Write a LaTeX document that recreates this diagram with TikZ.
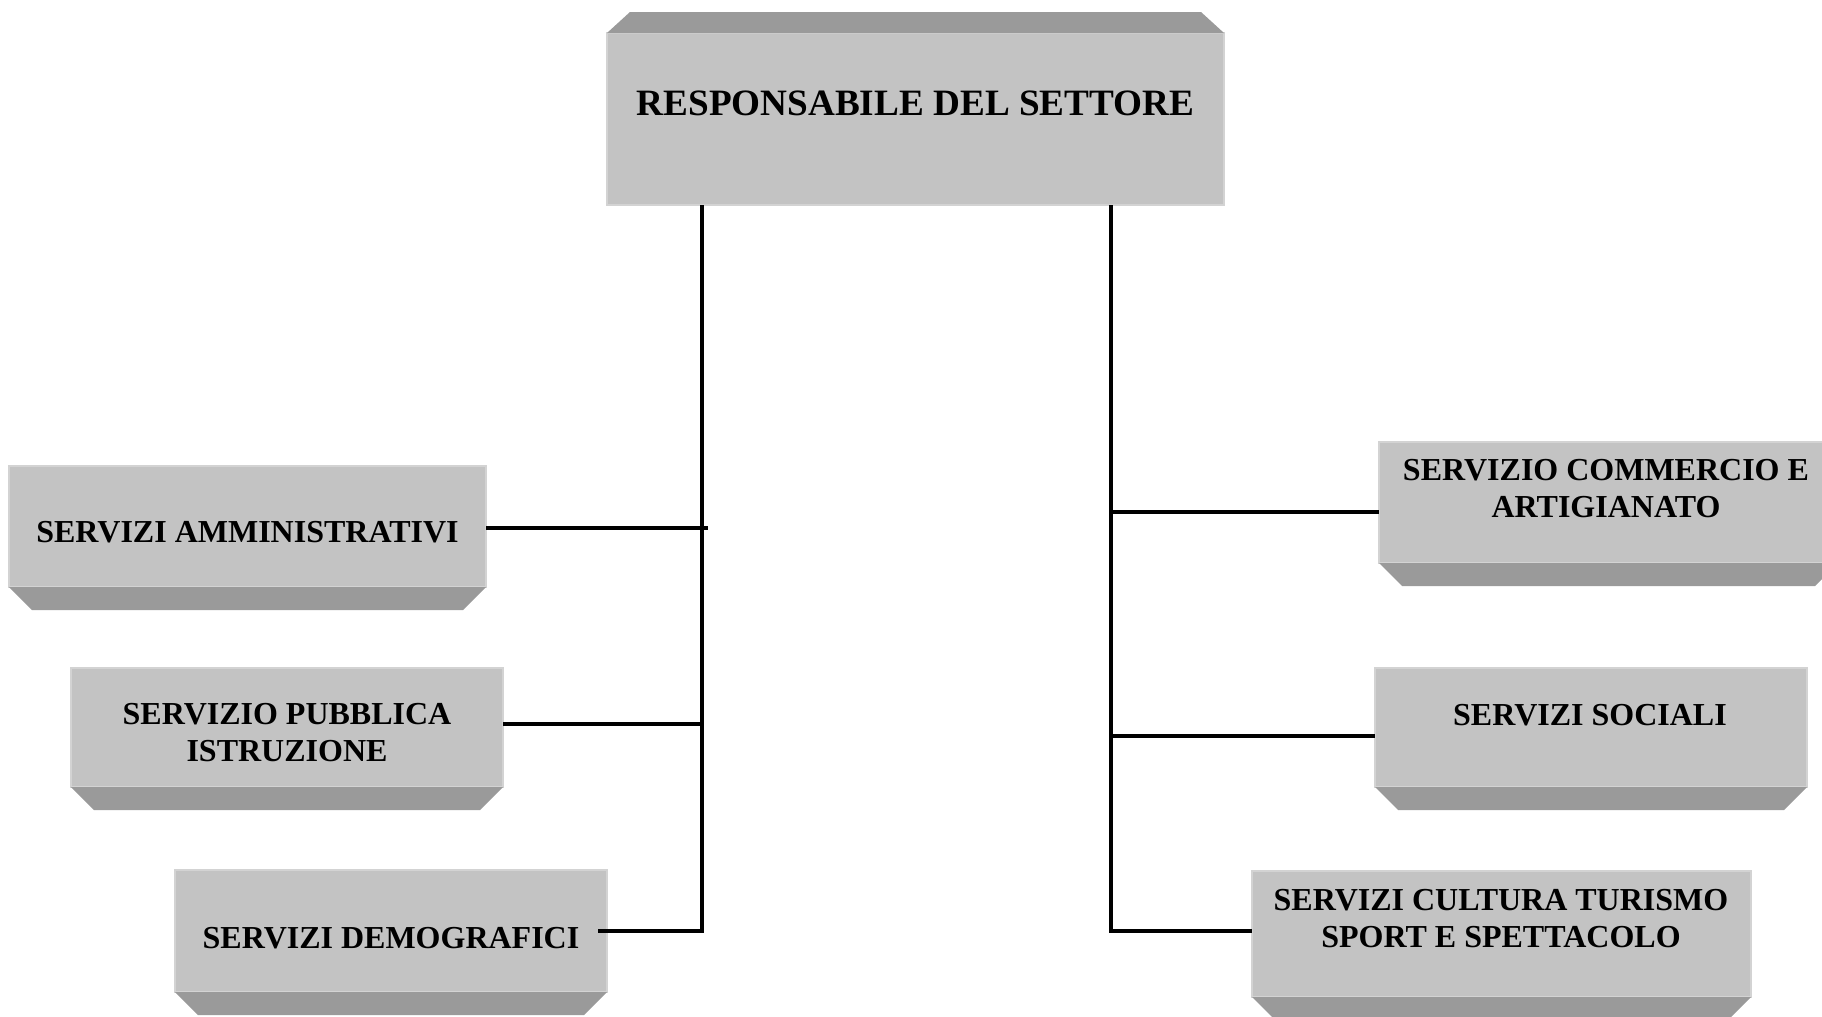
\documentclass[tikz,border=0pt]{standalone}
\usepackage{fontspec}
\setmainfont{Liberation Serif}
\usetikzlibrary{calc}
\definecolor{face}{HTML}{C3C3C3}
\definecolor{bevelc}{HTML}{9A9A9A}
\definecolor{edgec}{HTML}{D3D3D3}
\newcommand\botbevel[1]{\fill[bevelc] (#1.south west) -- (#1.south east) -- ++(-23,23) -- ($(#1.south west)+(23,23)$) -- cycle;}
\begin{document}
\begin{tikzpicture}[x=0.5pt,y=-0.5pt,
  facebox/.style={rectangle, fill=face, draw=edgec, line width=1pt, inner sep=0pt, outer sep=0pt},
  boxtext/.style={font=\bfseries\fontsize{16}{18.5}\selectfont, align=center, inner sep=0pt},
  toptext/.style={font=\bfseries\fontsize{18.6}{22}\selectfont, align=center, inner sep=0pt},
  conn/.style={line width=2pt, draw=black}]
\useasboundingbox (0,0) rectangle (1822,1017);
\clip (0,0) rectangle (1822,1017);
\fill[white] (0,0) rectangle (1822,1017);

% boxes
\node[facebox, minimum width=308.5pt, minimum height=86pt] (T) at (915.5,119) {};
\fill[bevelc] (T.north west) -- (T.north east) -- ++(-23,-21) -- ($(T.north west)+(23,-21)$) -- cycle;
\node[facebox, minimum width=238.5pt, minimum height=60.5pt] (b1) at (247.5,526.5) {};
\node[facebox, minimum width=216pt, minimum height=59.5pt] (b2) at (287,727.5) {};
\node[facebox, minimum width=216pt, minimum height=61pt] (b3) at (391,931) {};
\node[facebox, minimum width=229.5pt, minimum height=60.5pt] (b4) at (1608.5,502.5) {};
\node[facebox, minimum width=216pt, minimum height=59.5pt] (b5) at (1591,727.5) {};
\node[facebox, minimum width=249.5pt, minimum height=63pt] (b6) at (1501.5,934) {};
\botbevel{b1}
\botbevel{b2}
\botbevel{b3}
\botbevel{b4}
\botbevel{b5}
\botbevel{b6}

% texts
\node[toptext] (tT) at (915.5,103) {RESPONSABILE DEL SETTORE};
\node[boxtext] (t1) at (247.5,532) {SERVIZI AMMINISTRATIVI};
\node[boxtext] (t2) at (287,733) {SERVIZIO PUBBLICA\\ISTRUZIONE};
\node[boxtext] (t3) at (391,938) {SERVIZI DEMOGRAFICI};
\node[boxtext] (t4) at (1606,489) {SERVIZIO COMMERCIO E\\ARTIGIANATO};
\node[boxtext] (t5) at (1590,715) {SERVIZI SOCIALI};
\node[boxtext] (t6) at (1501,919) {SERVIZI CULTURA TURISMO\\SPORT E SPETTACOLO};

% junctions
\coordinate (jl1) at (702,528);
\coordinate (jl1e) at (708,528);
\coordinate (jl2) at (702,724);
\coordinate (jl3) at (702,931);
\coordinate (c3s) at ([xshift=-4.5pt]b3.east);
\coordinate (jr4) at (1111,512);
\coordinate (jr5) at (1111,736);
\coordinate (jr6) at (1111,931);

% connectors
\draw[conn] (T.south -| jl3) -- (jl3) -- (c3s |- jl3);
\draw[conn] (b1.east |- jl1) -- (jl1e);
\draw[conn] (b2.east |- jl2) -- (jl2);
\draw[conn] (T.south -| jr6) -- (jr6) -- (b6.west |- jr6);
\draw[conn] (jr4) -- (b4.west |- jr4);
\draw[conn] (jr5) -- (b5.west |- jr5);
\end{tikzpicture}
\end{document}
